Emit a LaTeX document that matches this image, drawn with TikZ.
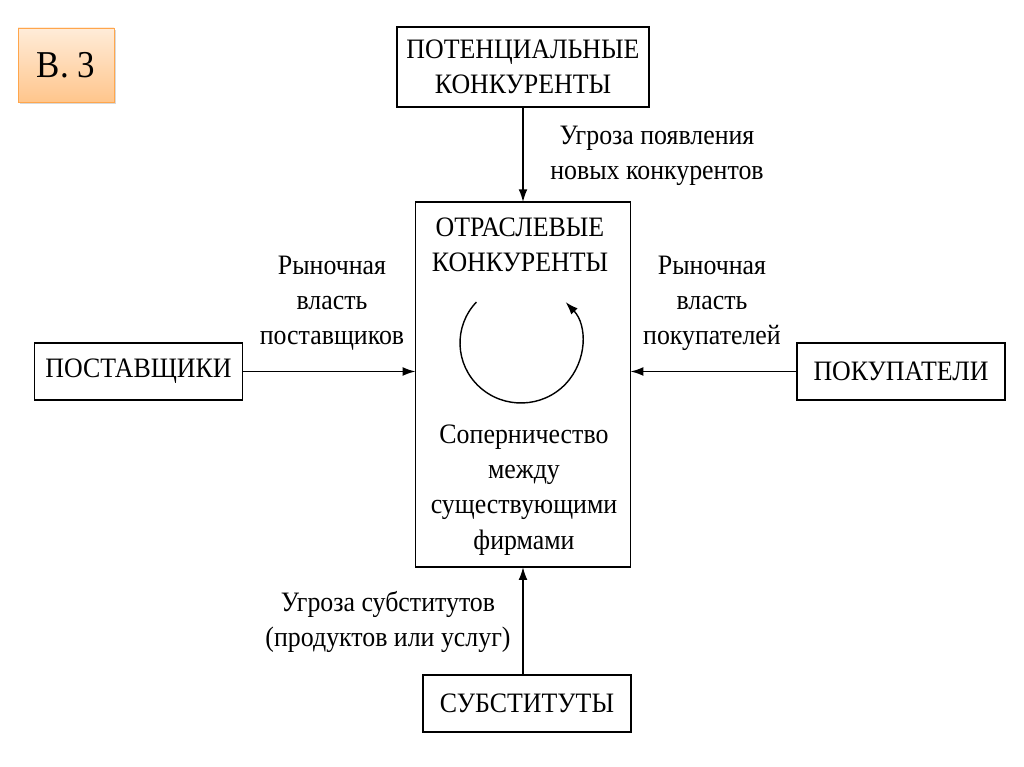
\documentclass[tikz,border=0pt]{standalone}
\usepackage{fontspec}
\setmainfont[FakeStretch=0.92]{Liberation Serif}
\usetikzlibrary{shadows,arrows.meta}

\tikzstyle{main}    = [draw=black, line width=1.4pt, inner sep=0pt, outer sep=0pt, text centered, align=center, font=\fontsize{20}{25}\selectfont]
\tikzstyle{size1}   = [main, minimum width=5.2cm, minimum height=1.43cm]
\tikzstyle{size2}   = [main, minimum width=6.3cm, minimum height=2cm]
\tikzstyle{size3}   = [main, minimum width=5.375cm, minimum height=9.125cm]
\tikzstyle{lbl}     = [align=center, inner sep=0pt, font=\fontsize{20}{25}\selectfont]
\tikzstyle{force}   = [-{Latex[length=3.2mm,width=2.2mm]}, line width=1.1pt]
\tikzstyle{ctag}    = [draw=orange!70!white, top color=orange!15!white, bottom color=orange!45!white,
                       drop shadow={shadow xshift=0.5mm, shadow yshift=-0.5mm, opacity=0.3},
                       minimum width=2.4cm, minimum height=1.85cm, font=\fontsize{27}{32}\selectfont]

\begin{document}
\begin{tikzpicture}
  \useasboundingbox (0,0) rectangle (25.6,19.175);
  \node[ctag] (tag) at (1.65,17.55) {В. 3};

  % boxes
  \node[size2] (rivals) at (13.075,17.5)   {ПОТЕНЦИАЛЬНЫЕ\\КОНКУРЕНТЫ};
  \node[size3] (core)   at (13.075,9.56)   {};
  \node[size1] (supply) at (3.4625,9.8875) {ПОСТАВЩИКИ};
  \node[size1] (buyers) at (22.525,9.8875) {ПОКУПАТЕЛИ};
  \node[size1] (subst)  at (13.175,1.5875) {СУБСТИТУТЫ};

  % text inside the central box
  \node[lbl] (coretitle) at (13.0,13.05)  {ОТРАСЛЕВЫЕ\\КОНКУРЕНТЫ};
  \node[lbl] (rivalry)   at (13.1,6.925) {Соперничество\\между\\существующими\\фирмами};
  \coordinate (cycle) at (13.025,10.6);
  \draw[force, line width=1pt] ([shift={(137:1.525 and 1.5)}]cycle)
    arc[start angle=137, end angle=403, x radius=1.525, y radius=1.5];

  % forces
  \draw[force] (rivals.south) -- (core.north);
  \draw[force] (supply.east) -- (supply.east -| core.west);
  \draw[force] (buyers.west) -- (buyers.west -| core.east);
  \draw[force] (subst.north -| core.south) -- (core.south);

  \node[lbl] (threatnew) at (16.425,15.275) {Угроза появления\\новых конкурентов};
  \node[lbl] (powsup)    at (8.3,11.6)      {Рыночная\\власть\\поставщиков};
  \node[lbl] (powbuy)    at (17.8,11.6)     {Рыночная\\власть\\покупателей};
  \node[lbl] (threatsub) at (9.7,3.625)     {Угроза субститутов\\(продуктов или услуг)};
\end{tikzpicture}
\end{document}
